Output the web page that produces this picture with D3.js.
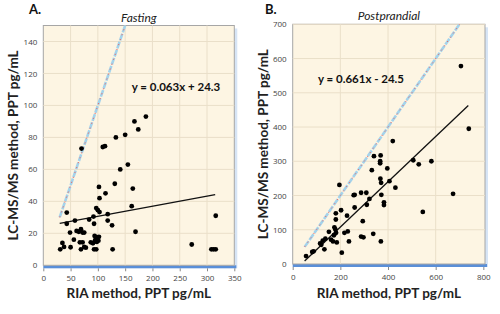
<!DOCTYPE html>
<html lang="en">
<head>
<meta charset="UTF-8">
<title>RIA vs LC-MS/MS</title>
<script src="https://cdn.jsdelivr.net/npm/d3@7/dist/d3.min.js"></script>
<style>
  body { margin: 0; background: #fff; }
  svg { display: block; font-family: Lato, "Open Sans", "DejaVu Sans", sans-serif; }
</style>
</head>
<body>
<svg width="500" height="314"></svg>
<script>
// fasting data (RIA x, LC-MS/MS y)
var fastX = [70,109,113,133,150,167,174,188,155,141,102,131,114,164,103,162,316,169,272,308,312,316,127,
  43,43,58,31,35,38,49,50,56,61,65,69,72,75,67,72,69,75,78,84,87,91,92,93,94,95,97,100,103,98,102,98,101,93,97,118,118,126];
var fastY = [73,74,74.5,80,81.6,90,85,93,63,60,49,51,45,48,42,37,31,21,13,10,10,10,10,
  33,26,28,10,14,11.5,20.5,11.3,16,21.5,21,22.6,20.5,20.5,14.4,14.4,10,11.5,11,28.6,14.4,13.8,30.5,26,18.4,15.7,35.8,34.5,33.3,17.6,17.8,14.6,15.4,10,10,32,28,25];
// postprandial data
var postX = [56,82,88,115,126,120,137,133,152,161,169,173,175,179,182,181,181,185,196,203,206,217,231,228,236,
  256,260,260,287,287,297,294,309,311,322,338,370,341,369,367,367,332,397,368,371,406,372,383,383,431,
  506,529,582,546,673,706,739,420];
var postY = [23,35,37,60,68,56,74,43,94,71,66,84,107,101,91,130,148,63,231,157,33,91,95,141,66,
  201,202,165,208,80,78,125,208,173,190,88,66,315,317,300,294,274,279,249,237,242,202,180,172,223,
  303,291,300,152,205,578,395,359];

var fastTicksX = [0,50,100,150,200,250,300,350];
var fastTicksY = [0,20,40,60,80,100,120,140];
var postTicksX = [0,200,400,600,800];
var postTicksY = [0,100,200,300,400,500,600,700];

var fastFit = {m: 0.063, b: 24.3, x0: 30, x1: 315};
var postFit = {m: 0.661, b: -24.5, x0: 50, x1: 737};

var svg = d3.select("svg");

function panel(o) {
  var x = d3.scaleLinear().domain(o.xDom).range([o.left, o.right]);
  var y = d3.scaleLinear().domain(o.yDom).range([o.bottom, o.top]);
  var g = svg.append("g");
  var w = o.right - o.left, h = o.bottom - o.top;

  // shadow on right and bottom
  g.append("rect").attr("x", o.right).attr("y", o.top + 3).attr("width", 3).attr("height", h)
    .attr("fill", "#d6e4f5");
  g.append("rect").attr("x", o.left).attr("y", o.bottom).attr("width", w + 2).attr("height", 3)
    .attr("fill", "#5a8fd8");

  g.append("rect").attr("x", o.left).attr("y", o.top).attr("width", w).attr("height", h)
    .attr("fill", "#fdf5e3").attr("stroke", "#a6a6a6").attr("stroke-width", 1);

  // grid
  g.selectAll(".gx").data(o.xTicks.slice(1, -1)).enter().append("line")
    .attr("x1", function(d) { return x(d); }).attr("x2", function(d) { return x(d); })
    .attr("y1", o.top).attr("y2", o.bottom).attr("stroke", "#eadfc9").attr("stroke-width", 1);
  g.selectAll(".gy").data(o.yTicks.slice(1)).enter().append("line")
    .attr("x1", o.left).attr("x2", o.right)
    .attr("y1", function(d) { return y(d); }).attr("y2", function(d) { return y(d); })
    .attr("stroke", "#eadfc9").attr("stroke-width", 1);

  // axes
  var xAxis = d3.axisBottom(x).tickValues(o.xTicks).tickSize(3).tickPadding(4);
  var ax = g.append("g").attr("transform", "translate(0," + (o.bottom + 3) + ")").call(xAxis);
  ax.select(".domain").remove();
  ax.selectAll("line").attr("stroke", "#888");
  ax.selectAll("text").attr("font-size", 8).attr("fill", "#444").attr("font-family", "Open Sans, sans-serif");

  var yAxis = d3.axisLeft(y).tickValues(o.yTicks).tickSize(0).tickPadding(6);
  var ay = g.append("g").attr("transform", "translate(" + o.left + ",0)").call(yAxis);
  ay.select(".domain").remove();
  ay.selectAll("text").attr("font-size", 8).attr("fill", "#444").attr("font-family", "Open Sans, sans-serif");

  // identity line y = x
  var idLine = [[o.id0, o.id0], [o.id1, o.id1]];
  var line = d3.line().x(function(d) { return x(d[0]); }).y(function(d) { return y(d[1]); });
  g.append("path").attr("d", line(idLine)).attr("stroke", "#a3d3ec").attr("stroke-width", 2.6)
    .attr("fill", "none").attr("stroke-dasharray", "7,1.5");
  g.append("path").attr("d", line(idLine)).attr("stroke", "#ef6a64").attr("stroke-width", 1)
    .attr("fill", "none").attr("stroke-dasharray", "1.2,4");

  // regression
  var f = o.fit;
  var reg = [[f.x0, f.m * f.x0 + f.b], [f.x1, f.m * f.x1 + f.b]];
  g.append("path").attr("d", line(reg)).attr("stroke", "#111").attr("stroke-width", 1.3).attr("fill", "none");

  // points
  g.selectAll("circle").data(o.xs).enter().append("circle")
    .attr("cx", function(d) { return x(d); })
    .attr("cy", function(d, i) { return y(o.ys[i]); })
    .attr("r", 2.4).attr("fill", "#000");

  // texts
  g.append("text").attr("x", o.eqX).attr("y", o.eqY).attr("font-size", 11.5).attr("font-weight", "bold")
    .attr("fill", "#111").attr("text-anchor", "middle").text(o.eq);
  g.append("text").attr("x", (o.left + o.right) / 2).attr("y", o.top - 4).attr("font-size", 12)
    .attr("font-style", "italic").attr("fill", "#222").attr("text-anchor", "middle").text(o.title);
  g.append("text").attr("x", o.letterX).attr("y", 14).attr("font-size", 13).attr("font-weight", "bold")
    .attr("fill", "#111").text(o.letter);
  g.append("text").attr("x", (o.left + o.right) / 2).attr("y", 298).attr("font-size", 13.5)
    .attr("font-weight", "bold").attr("fill", "#222").attr("text-anchor", "middle")
    .text("RIA method, PPT pg/mL");
  g.append("text").attr("transform", "translate(" + o.ylabX + "," + ((o.top + o.bottom) / 2) + ") rotate(-90)")
    .attr("font-size", 13.5).attr("font-weight", "bold").attr("fill", "#222").attr("text-anchor", "middle")
    .text("LC-MS/MS method, PPT pg/mL");
}

panel({
  left: 43.3, right: 234.3, top: 25.5, bottom: 265.3,
  xDom: [0, 350], yDom: [0, 150], xTicks: fastTicksX, yTicks: fastTicksY,
  xs: fastX, ys: fastY, fit: fastFit, id0: 30, id1: 150,
  eq: "y = 0.063x + 24.3", eqX: 176, eqY: 91,
  title: "Fasting", letter: "A.", letterX: 29, ylabX: 18
});
panel({
  left: 292.7, right: 485, top: 24.3, bottom: 264,
  xDom: [0, 807], yDom: [0, 700], xTicks: postTicksX, yTicks: postTicksY,
  xs: postX, ys: postY, fit: postFit, id0: 50, id1: 700,
  eq: "y = 0.661x - 24.5", eqX: 361, eqY: 83,
  title: "Postprandial", letter: "B.", letterX: 265, ylabX: 268
});
</script>
</body>
</html>
